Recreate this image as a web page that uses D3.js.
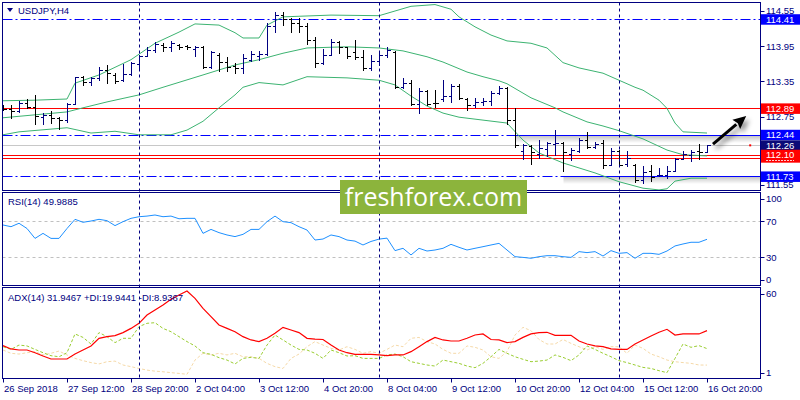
<!DOCTYPE html>
<html><head><meta charset="utf-8">
<script src="https://cdn.jsdelivr.net/npm/d3@7"></script>
<style>
html,body{margin:0;padding:0;background:#fff;}
svg{display:block;font-family:"Liberation Sans",Arial,sans-serif;}
</style></head><body>
<svg id="c" width="800" height="400"></svg>
<script>
// ---------- DATA ----------
const symbolTitle = "USDJPY,H4";
const timeLabelBars = [0, 8, 16, 24, 32, 40, 48, 56, 64, 72, 80, 88];
const timeLabels = ["26 Sep 2018","27 Sep 12:00","28 Sep 20:00","2 Oct 04:00","3 Oct 12:00","4 Oct 20:00","8 Oct 04:00","9 Oct 12:00","10 Oct 20:00","12 Oct 04:00","15 Oct 12:00","16 Oct 20:00"];
const weekSeparatorBars = [17, 47, 77];

const open  = [112.90,112.88,112.84,112.98,112.92,112.74,112.78,112.72,112.70,112.97,113.42,113.34,113.40,113.55,113.46,113.38,113.48,113.64,113.79,113.88,113.97,113.94,113.97,113.95,113.90,113.94,113.60,113.80,113.68,113.62,113.58,113.72,113.78,113.82,114.30,114.48,114.42,114.34,114.30,114.06,113.67,113.80,114.02,113.93,113.85,113.76,113.58,113.70,113.80,113.85,113.25,113.33,112.97,113.18,112.99,113.05,113.10,113.28,113.05,112.95,113.00,113.02,113.15,113.24,112.70,112.16,112.25,112.12,112.20,112.28,112.30,112.12,112.16,112.35,112.24,112.30,111.93,112.16,111.95,111.93,111.67,111.82,111.75,111.75,111.83,112.03,112.10,112.16,112.15];
const high  = [112.95,112.95,113.02,113.05,113.12,112.81,112.85,112.75,112.99,113.43,113.44,113.43,113.60,113.63,113.49,113.64,113.68,113.80,113.93,114.03,114.00,114.04,113.98,113.97,113.96,113.96,113.87,113.83,113.77,113.66,113.81,113.86,113.86,114.34,114.53,114.53,114.43,114.43,114.34,114.11,113.91,114.07,114.04,113.93,114.06,113.89,113.80,113.86,113.93,113.86,113.41,113.37,113.23,113.20,113.20,113.37,113.30,113.30,113.06,113.06,113.06,113.19,113.28,113.26,112.90,112.29,112.27,112.35,112.32,112.52,112.31,112.21,112.39,112.48,112.32,112.35,112.21,112.18,112.16,111.95,111.91,111.93,111.88,111.90,112.04,112.16,112.18,112.28,112.27];
const low   = [112.86,112.73,112.83,112.89,112.62,112.62,112.64,112.54,112.66,112.96,113.29,113.29,113.38,113.32,113.32,113.35,113.46,113.57,113.78,113.85,113.86,113.87,113.91,113.91,113.79,113.58,113.58,113.52,113.52,113.49,113.49,113.69,113.72,113.80,114.19,114.31,114.19,114.19,113.99,113.60,113.65,113.80,113.83,113.75,113.74,113.54,113.54,113.63,113.77,113.23,113.24,112.94,112.81,112.95,112.92,113.02,113.00,113.05,112.86,112.92,112.95,112.95,113.13,112.62,112.23,112.03,111.95,112.04,112.07,112.10,111.82,112.01,112.15,112.22,112.21,111.87,111.92,111.90,111.90,111.64,111.61,111.65,111.74,111.71,111.82,112.03,111.99,112.03,112.15];
const close = [112.88,112.84,112.98,112.92,112.76,112.78,112.72,112.70,112.97,113.42,113.34,113.40,113.55,113.50,113.36,113.48,113.66,113.78,113.88,113.98,113.94,114.00,113.94,113.93,113.94,113.60,113.85,113.68,113.60,113.58,113.75,113.82,113.82,114.30,114.48,114.42,114.34,114.30,114.06,113.67,113.80,114.02,113.93,113.78,113.76,113.58,113.70,113.80,113.88,113.25,113.33,112.97,113.18,112.97,112.98,113.10,113.28,113.07,112.95,113.00,113.02,113.15,113.24,112.70,112.26,112.27,112.14,112.22,112.30,112.30,112.15,112.18,112.35,112.24,112.28,111.93,112.16,111.93,112.05,111.67,111.80,111.72,111.76,111.82,112.02,112.12,112.14,112.15,112.26];

const bbUpper  = [[0,113.02],[4,113.03],[8,113.05],[9,113.32],[12,113.46],[16,113.72],[19,114.00],[22,114.19],[24,114.33],[27,114.31],[29,114.18],[30,114.09],[32,114.09],[33,114.31],[35,114.45],[37,114.46],[41,114.48],[47,114.47],[49,114.55],[51,114.63],[54,114.66],[56,114.58],[57,114.45],[59,114.28],[61,114.14],[63,114.04],[66,114.00],[68,113.92],[70,113.67],[72,113.58],[75,113.49],[77,113.37],[79,113.25],[80,113.20],[82,113.03],[83,112.89],[84,112.64],[85,112.49],[88,112.47]];
const bbMiddle = [[0,112.73],[4,112.78],[8,112.83],[10,112.90],[13,113.00],[17,113.12],[20,113.25],[25,113.46],[29,113.63],[32,113.72],[35,113.83],[38,113.92],[43,113.94],[47,113.92],[50,113.87],[53,113.77],[55,113.68],[58,113.51],[60,113.43],[62,113.36],[63,113.31],[65,113.15],[66,113.07],[69,112.90],[70,112.83],[73,112.66],[75,112.59],[77,112.51],[80,112.37],[83,112.18],[85,112.10],[88,112.08]];
const bbLower  = [[0,112.44],[2,112.49],[8,112.56],[11,112.47],[14,112.50],[17,112.44],[21,112.44],[23,112.52],[25,112.67],[27,112.90],[29,113.12],[30,113.25],[32,113.33],[35,113.29],[38,113.43],[43,113.41],[47,113.37],[49,113.29],[51,113.10],[53,112.93],[55,112.81],[57,112.74],[60,112.69],[63,112.64],[65,112.35],[67,112.13],[70,111.96],[74,111.79],[77,111.64],[80,111.53],[82,111.50],[83,111.52],[84,111.65],[86,111.70],[88,111.70]];

const rsi = [65.9,64,67.8,62,51,56.6,51,51,62,72.2,68.9,70.3,72.2,70.7,65.2,69.6,73.3,75.1,75.8,77,75.1,75.8,72.8,73.3,73.3,56.6,61,57.4,54.8,53,55.5,61,61,69.6,75.8,69.6,68.5,64,60.3,49.2,50.3,54.8,53,49.2,48,43.7,47.6,50.2,51.3,37.4,40,32.6,40,37,38.1,40,44.4,41.1,38.1,40,41.8,43.7,45.5,38.1,30.7,29.9,28.9,30.7,31.8,31.8,30.7,29.9,36.3,35.2,36.3,31.4,37.4,34.4,35.2,28.9,34.4,34.4,33.3,37,42.6,44.8,46.7,46.7,49.99];
const adx = [21.9,19.7,19,19,17.2,15,13,13,13,16.3,19,21.7,26.8,27.9,28.6,30.6,33.4,36.8,42.3,45.7,49,52.8,55.7,58.3,53.4,46.8,41.2,35.7,33.4,31.2,27.9,25.7,24.6,26.8,30.1,34.1,32.3,30.6,26.8,26.3,26,22.3,19,17.2,16.1,16.1,16.1,15.7,15.2,15.7,15.7,17.9,21.2,24.6,27.4,25.7,25,25,26.8,29,29.7,26,25.7,23.9,24.6,27.4,29.7,30.6,30.8,28.8,28.8,28.8,25,23,21.7,21.2,19.7,19.4,19.4,23,25.7,28.3,30.8,32.8,29,29.7,29.7,29.7,31.95];
const plusDI = [21.2,19.4,22.3,21.7,19.4,17.2,15.2,14.5,17.2,29.7,27.4,23,30.6,27.9,23.9,26.8,26.8,34.6,36.8,37.2,33.4,31.2,27.9,24.6,21.7,17.2,16.1,13.9,12.3,9.7,13.4,14.1,13.4,22.3,29,25.7,22.3,19.4,19,16.8,13.4,19,17.2,15,15.2,13.4,13.4,13.4,15.7,16.3,14.5,11.2,10.1,9,8.3,12.3,11.2,10.1,8.3,7.2,10.1,14.5,19.4,16.8,14.5,12.8,11.2,11.6,12.3,15.7,14.1,11.9,15.7,21.7,19.4,16.8,14.5,11.9,10.6,9,7.4,6.7,5.2,3.9,13.4,23,20.8,21.9,19.94];
const minusDI = [19,16.8,16.3,17.2,17.9,15.7,16.8,18.3,15.7,13.4,11.9,10.6,9.7,11.2,11.6,9,7.9,6.7,5.6,4.9,4.5,3.9,3.4,2.8,12.3,16.8,15.7,16.8,15.7,16.8,14.5,14.5,13.4,10.1,7.9,6.7,13.4,16.3,21.2,24.6,22.3,20.1,19,21.2,19.4,16.8,17.9,16.8,19.4,22.3,21.2,26.8,27.4,24.6,23,19.4,16.8,16.8,21.7,20.8,19,14.5,13.4,17.9,29,34.1,31.9,26,23,23,26,23.4,21.2,19,21.2,19.4,21.2,21.2,16.8,22.3,20.1,16.3,14.5,12.3,11.2,10.6,10.1,9,8.94];

const priceTicks = [114.55, 113.95, 113.35, 112.75, 111.55];
const rsiTicks = [100, 70, 30, 0];
const rsiLevels = [70, 30];
const adxTicks = [60, 1];
const dashDotLevels = [114.41, 112.44, 111.73];
const redLevels = [112.89, 112.10, 112.05];
const bidPrice = 112.26;
const rangeLines = [{v:112.44, from:64}, {v:111.73, from:70}];
const priceLabels = [
  {v:114.41, c:"#0000ff"}, {v:112.89, c:"#ff0000"}, {v:112.44, c:"#0000ff"},
  {v:112.26, c:"#0a0a78"}, {v:111.73, c:"#0000ff"}];
const redPairLabel = {v:112.10, v2:112.05};
const arrowFrom = [88.75, 112.28], arrowTo = [92.9, 112.76];
const markDot = [93.4, 112.26];
const rsiName = "RSI(14) 49.9885";
const adxName = "ADX(14) 31.9467 +DI:19.9441 -DI:8.9367";
const watermark = "freshforex.com";

// ---------- LAYOUT ----------
const NAVY = "#000080";
const FS = 9.5;
const L = 2.5, R = 760.5;
const P = {top:2.5, bottom:190.5}, RS = {top:192.5, bottom:285.5}, AD = {top:287.5, bottom:378.5};

const x = d3.scaleLinear().domain([0, 88]).range([3, 707]);
const yP = d3.scaleLinear().domain([111.55, 114.55]).range([187, 11]);
const yR = d3.scaleLinear().domain([0, 100]).range([284.3, 194.3]);
const yA = d3.scaleLinear().domain([0, 60]).range([378.5, 288.5]);
const px = i => Math.round(x(i)) + 0.5;
const py = (s, v) => Math.round(s(v)) + 0.5;

const svg = d3.select("#c");
const defs = svg.append("defs");
function clip(id, p) {
  defs.append("clipPath").attr("id", id).append("rect")
    .attr("x", L).attr("y", p.top).attr("width", R - L).attr("height", p.bottom - p.top);
}
clip("cp", P); clip("cr", RS); clip("ca", AD);
const sh = defs.append("filter").attr("id","sh").attr("filterUnits","userSpaceOnUse")
  .attr("x",0).attr("y",0).attr("width",800).attr("height",400);
sh.append("feDropShadow").attr("dx",0).attr("dy",3).attr("stdDeviation",2)
  .attr("flood-color","#000").attr("flood-opacity",0.25);
const sh2 = defs.append("filter").attr("id","sh2").attr("filterUnits","userSpaceOnUse")
  .attr("x",0).attr("y",0).attr("width",800).attr("height",400);
sh2.append("feDropShadow").attr("dx",3).attr("dy",4).attr("stdDeviation",2.5)
  .attr("flood-color","#000").attr("flood-opacity",0.45);

svg.append("rect").attr("width",800).attr("height",400).attr("fill","#fff");

// ---------- MAIN PANEL ----------
const gp = svg.append("g").attr("clip-path","url(#cp)");
gp.append("line").attr("x1",L).attr("x2",R).attr("y1",py(yP,bidPrice)).attr("y2",py(yP,bidPrice))
  .attr("stroke","#c8c8c8");
redLevels.forEach(v => gp.append("line").attr("x1",L).attr("x2",R)
  .attr("y1",py(yP,v)).attr("y2",py(yP,v)).attr("stroke","#ff0000"));
dashDotLevels.forEach(v => gp.append("line").attr("x1",L).attr("x2",R)
  .attr("y1",py(yP,v)).attr("y2",py(yP,v)).attr("stroke","#0000ff").attr("stroke-dasharray","10,3,2,3"));
rangeLines.forEach(r => {
  gp.append("rect").attr("x",px(r.from)).attr("y",py(yP,r.v)+0.5).attr("width",R-px(r.from)).attr("height",7)
    .attr("fill","url(#shadeGrad)");
  gp.append("line").attr("x1",px(r.from)).attr("x2",R)
    .attr("y1",py(yP,r.v)).attr("y2",py(yP,r.v)).attr("stroke","#0000ff").attr("stroke-width",1.2);
});
const grad = defs.append("linearGradient").attr("id","shadeGrad").attr("x1",0).attr("y1",0).attr("x2",0).attr("y2",1);
grad.append("stop").attr("offset","0").attr("stop-color","#000").attr("stop-opacity",0.22);
grad.append("stop").attr("offset","1").attr("stop-color","#000").attr("stop-opacity",0);

const bandLine = d3.line().x(d => x(d[0])).y(d => yP(d[1]));
[bbUpper, bbMiddle, bbLower].forEach(b => gp.append("path").attr("d", bandLine(b))
  .attr("fill","none").attr("stroke","#3cb371").attr("stroke-width",1));

const bars = gp.append("g").attr("shape-rendering","crispEdges");
d3.range(open.length).forEach(i => {
  const c = close[i] >= open[i] ? NAVY : "#000";
  const xx = px(i);
  const g = bars.append("g").attr("stroke", c);
  g.append("line").attr("x1",xx).attr("x2",xx).attr("y1",Math.round(yP(high[i]))).attr("y2",Math.round(yP(low[i]))+1);
  g.append("line").attr("x1",xx-3).attr("x2",xx).attr("y1",py(yP,open[i])).attr("y2",py(yP,open[i]));
  g.append("line").attr("x1",xx).attr("x2",xx+3).attr("y1",py(yP,close[i])).attr("y2",py(yP,close[i]));
});

// title
svg.append("path").attr("d","M7,8 L13,8 L10,12 Z").attr("fill",NAVY);
svg.append("text").attr("x",18).attr("y",13.5).attr("font-size",FS).attr("fill",NAVY).text(symbolTitle);

// ---------- RSI PANEL ----------
const gr = svg.append("g").attr("clip-path","url(#cr)");
rsiLevels.forEach(v => gr.append("line").attr("x1",L).attr("x2",R).attr("y1",py(yR,v)).attr("y2",py(yR,v))
  .attr("stroke","#c0c0c0").attr("stroke-dasharray","3,3"));
gr.append("path").attr("d", d3.line().x((d,i)=>x(i)).y(d=>yR(d))(rsi))
  .attr("fill","none").attr("stroke","#1e90ff").attr("stroke-width",1);
svg.append("text").attr("x",8).attr("y",205).attr("font-size",FS).attr("fill",NAVY).text(rsiName);

// ---------- ADX PANEL ----------
const ga = svg.append("g").attr("clip-path","url(#ca)");
const la = d3.line().x((d,i)=>x(i)).y(d=>yA(d));
ga.append("path").attr("d", la(minusDI)).attr("fill","none").attr("stroke","#f5d9a8").attr("stroke-dasharray","3,2");
ga.append("path").attr("d", la(plusDI)).attr("fill","none").attr("stroke","#9acd32").attr("stroke-dasharray","3,2");
ga.append("path").attr("d", la(adx)).attr("fill","none").attr("stroke","#ff0000").attr("stroke-width",1.2);
svg.append("text").attr("x",8).attr("y",301).attr("font-size",FS).attr("fill",NAVY).text(adxName);

// ---------- SEPARATORS & FRAMES ----------
weekSeparatorBars.forEach(b => svg.append("line").attr("x1",px(b)).attr("x2",px(b))
  .attr("y1",P.top).attr("y2",AD.bottom).attr("stroke",NAVY).attr("stroke-dasharray","3,3"));
[P, RS, AD].forEach(p => svg.append("rect").attr("x",L).attr("y",p.top).attr("width",R-L)
  .attr("height",p.bottom-p.top).attr("fill","none").attr("stroke",NAVY).attr("stroke-width",1));

// ---------- RIGHT AXES ----------
function rightTicks(vals, s, p, fmt) {
  vals.forEach(v => {
    let yy = s(v);
    yy = Math.max(p.top + 6, Math.min(p.bottom - 6, yy));
    svg.append("line").attr("x1",R).attr("x2",R+4).attr("y1",Math.round(yy)+0.5).attr("y2",Math.round(yy)+0.5).attr("stroke",NAVY);
    svg.append("text").attr("x",766).attr("y",yy).attr("dy","0.35em").attr("font-size",FS)
      .attr("fill",NAVY).text(fmt(v));
  });
}
rightTicks(priceTicks, yP, P, d3.format(".2f"));
rightTicks(rsiTicks, yR, RS, d => String(d));
rightTicks(adxTicks, yA, AD, d => String(d));

// colored price labels
priceLabels.forEach(l => {
  const yy = yP(l.v);
  svg.append("rect").attr("x",761).attr("y",yy-5).attr("width",39).attr("height",10.5).attr("fill",l.c);
  svg.append("text").attr("x",766).attr("y",yy).attr("dy","0.35em").attr("font-size",FS).attr("fill","#fff").text(l.v.toFixed(2));
});
{
  const y1 = yP(redPairLabel.v), y2 = yP(redPairLabel.v2);
  svg.append("rect").attr("x",761).attr("y",y1-5).attr("width",39).attr("height",y2-y1+10).attr("fill","#ff0000");
  svg.append("text").attr("x",766).attr("y",y1).attr("dy","0.35em").attr("font-size",FS).attr("fill","#fff").text(redPairLabel.v.toFixed(2));
  svg.append("line").attr("x1",766).attr("x2",794).attr("y1",Math.round(y2)+2.5).attr("y2",Math.round(y2)+2.5)
    .attr("stroke","#fff").attr("stroke-dasharray","2,1").attr("opacity",0.8);
}

// ---------- TIME AXIS ----------
timeLabelBars.forEach((b, k) => {
  svg.append("line").attr("x1",px(b)).attr("x2",px(b)).attr("y1",AD.bottom).attr("y2",AD.bottom+4).attr("stroke",NAVY);
  svg.append("text").attr("x",x(b)+1).attr("y",392).attr("font-size",FS).attr("fill",NAVY).text(timeLabels[k]);
});

// ---------- ANNOTATIONS ----------
{
  const x0 = x(arrowFrom[0]), y0 = yP(arrowFrom[1]), x1 = x(arrowTo[0]), y1 = yP(arrowTo[1]);
  const ang = Math.atan2(y1 - y0, x1 - x0);
  const hl = 13, hw = 6;
  const bx = x1 - hl*Math.cos(ang), by = y1 - hl*Math.sin(ang);
  const nx = -Math.sin(ang), ny = Math.cos(ang);
  const ga2 = svg.append("g").attr("filter","url(#sh2)");
  ga2.append("line").attr("x1",x0).attr("y1",y0).attr("x2",bx).attr("y2",by).attr("stroke","#000").attr("stroke-width",3);
  ga2.append("path").attr("d",`M${x1},${y1} L${bx+nx*hw},${by+ny*hw} L${bx+2*Math.cos(ang)},${by+2*Math.sin(ang)} L${bx-nx*hw},${by-ny*hw} Z`).attr("fill","#000");
  svg.append("rect").attr("x",x(markDot[0])-1).attr("y",yP(markDot[1])-1).attr("width",2).attr("height",2).attr("fill","#ff0000");
}

// watermark
svg.append("rect").attr("x",340).attr("y",180).attr("width",187).attr("height",34).attr("fill","#8cb43c");
svg.append("text").attr("x",433.5).attr("y",206).attr("text-anchor","middle")
  .attr("font-family","'Open Sans',sans-serif").attr("font-size",25).attr("fill","#fff").text(watermark);
</script>
</body></html>
